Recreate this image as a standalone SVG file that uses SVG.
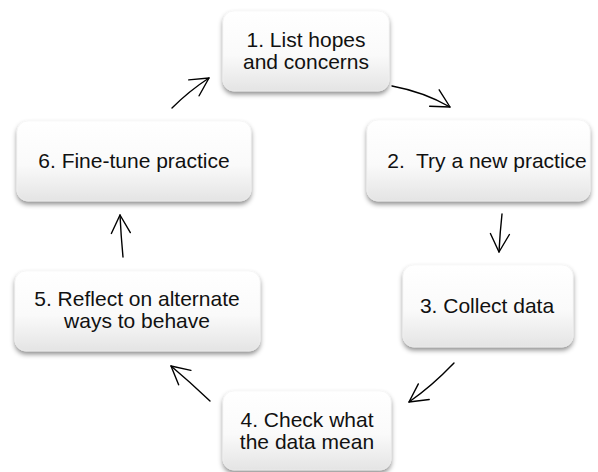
<svg xmlns="http://www.w3.org/2000/svg" width="598" height="472" viewBox="0 0 598 472">
<defs>
<linearGradient id="g" x1="0" y1="0" x2="0" y2="1">
<stop offset="0" stop-color="#ffffff"/>
<stop offset="0.55" stop-color="#fafafa"/>
<stop offset="1" stop-color="#e4e4e4"/>
</linearGradient>
<filter id="sh" x="-10%" y="-10%" width="120%" height="130%">
<feDropShadow dx="0" dy="3" stdDeviation="2.5" flood-color="#000" flood-opacity="0.45"/>
</filter>
<marker id="ah" markerUnits="userSpaceOnUse" markerWidth="30" markerHeight="30" viewBox="-22 -15 30 30" refX="0" refY="0" orient="auto">
<path d="M-18,-9.5 L0,0 L-18,9.5" fill="none" stroke="#000" stroke-width="1.4" stroke-linecap="round" stroke-linejoin="round"/>
</marker>
</defs>
<style>
.box{fill:url(#g);stroke:#f0f0f0;stroke-width:0.5;filter:url(#sh)}
.t{font-family:"Liberation Sans",Arial,sans-serif;font-size:21px;fill:#111;text-anchor:middle}
.c{fill:none;stroke:#000;stroke-width:1.4;stroke-linecap:round;marker-end:url(#ah)}
</style>
<g id="connectors">
<path class="c" d="M392,86 Q424,92 450,107"/>
<path class="c" d="M502,214 Q500,232 499,252"/>
<path class="c" d="M454,363 Q432,386 409,402"/>
<path class="c" d="M210,401 Q190,382 171,366"/>
<path class="c" d="M123,257 Q121,236 120,215"/>
<path class="c" d="M172,108 Q189,91 209,78"/>
</g>
<g id="n1"><rect class="box" x="223" y="11" width="166" height="80" rx="11"/>
<text class="t" x="306" y="47">1. List hopes</text><text class="t" x="306" y="69">and concerns</text></g>
<g id="n2"><rect class="box" x="367" y="120" width="223" height="81" rx="11"/>
<text class="t" x="487" y="168" xml:space="preserve">2.  Try a new practice</text></g>
<g id="n3"><rect class="box" x="403" y="265" width="170" height="82" rx="11"/>
<text class="t" x="487" y="313">3. Collect data</text></g>
<g id="n4"><rect class="box" x="223" y="391" width="168" height="79" rx="11"/>
<text class="t" x="307" y="427">4. Check what</text><text class="t" x="307" y="449">the data mean</text></g>
<g id="n5"><rect class="box" x="15" y="271" width="245" height="80" rx="11"/>
<text class="t" x="137" y="306">5. Reflect on alternate</text><text class="t" x="137" y="328">ways to behave</text></g>
<g id="n6"><rect class="box" x="17" y="121" width="234" height="80" rx="11"/>
<text class="t" x="134" y="168">6. Fine-tune practice</text></g>
</svg>
